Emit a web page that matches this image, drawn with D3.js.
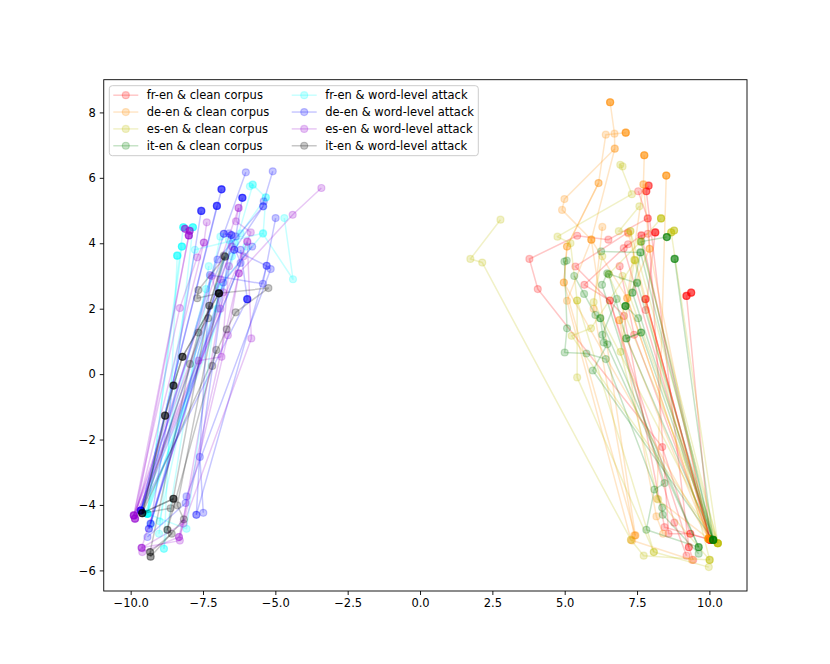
<!DOCTYPE html>
<html lang="en">
<head>
<meta charset="UTF-8">
<title>trajectories</title>
<script src="https://d3js.org/d3.v7.min.js"></script>
<style>
  body{margin:0;background:#fff;}
  svg text{font-family:"DejaVu Sans",sans-serif;}
</style>
</head>
<body>
<svg id="chart" width="830" height="664"></svg>
<script>
// legend labels, one per series (same order as seriesData below)
const labels = ['fr-en & clean corpus','de-en & clean corpus','es-en & clean corpus','it-en & clean corpus',
                'fr-en & word-level attack','de-en & word-level attack','es-en & word-level attack','it-en & word-level attack'];
const colors = ['#ff0000','#ff8c00','#bfbf00','#008000','#00ffff','#0000ff','#9400d3','#000000'];
const xTicks = [-10,-7.5,-5,-2.5,0,2.5,5,7.5,10];
const yTicks = [-6,-4,-2,0,2,4,6,8];

// each series: list of trajectories, each trajectory a list of [x,y] points
// (repeated points = several layers sitting on the same spot)
const frEnClean = [
  [[9.37,2.49],[9.37,2.49],[9.37,2.49],[9.37,2.49],[9.21,2.39],[9.21,2.39],[9.21,2.39],[9.21,2.39],[10.02,-5.06]],
  [[7.90,5.76],[7.90,5.76],[7.90,5.76],[7.82,5.59],[7.82,5.59],[7.82,5.59],[9.29,-5.29],[9.44,-5.68]],
  [[7.87,4.76],[6.51,4.11],[5.43,4.23],[3.78,3.52],[4.07,2.60],[8.37,-2.23],[9.34,-4.88]],
  [[7.87,4.29],[7.65,4.24],[7.04,3.85],[10.02,-5.06]],
  [[7.19,3.97],[5.68,2.73],[6.56,2.25],[8.79,-4.54],[9.21,-5.55]],
  [[8.13,4.33],[8.13,4.33],[8.13,4.33],[8.13,4.33],[7.80,1.96],[7.79,2.29],[10.02,-5.06]],
  [[7.19,4.33],[5.37,3.29],[7.05,1.78],[8.45,-4.68],[10.02,-5.06]],
  [[7.54,5.59],[7.87,4.76],[8.59,-4.88],[9.34,-4.88],[10.02,-5.06]],
  [[7.80,2.30],[10.02,-5.06]],
  [[7.65,4.24],[10.02,-5.06]],
  [[6.56,2.25],[9.29,-5.29]],
  [[7.79,2.29],[10.02,-5.06]],
  [[6.90,3.30],[7.40,1.20],[10.02,-5.06]]
];
const deEnClean = [
  [[6.57,8.31],[6.57,8.31],[6.57,8.31],[6.57,8.31],[6.72,7.35],[6.73,6.89],[4.99,5.35],[4.91,5.02],[5.92,4.11],[7.16,2.32],[9.97,-5.03]],
  [[7.11,7.38],[7.11,7.38],[7.11,7.38],[7.11,7.38],[6.42,7.32],[6.17,5.84],[5.08,3.90],[4.97,2.80],[7.44,-4.93],[7.33,-5.09]],
  [[7.75,6.69],[7.75,6.69],[7.75,6.69],[7.75,6.69],[7.72,5.80],[7.93,3.83],[6.89,1.65],[8.17,-4.35],[8.40,-4.88]],
  [[8.51,6.07],[8.51,6.07],[8.51,6.07],[8.51,6.07],[8.19,-3.81],[9.97,-5.03]],
  [[6.73,6.89],[5.92,4.11],[5.08,2.24],[7.29,-5.07],[9.40,-5.68]],
  [[7.72,5.80],[7.16,2.32],[9.97,-5.03]],
  [[6.17,5.84],[5.08,3.90],[4.97,2.80],[9.97,-5.03]],
  [[7.20,4.30],[9.97,-5.03]],
  [[6.89,1.65],[9.97,-5.03]],
  [[7.93,3.83],[9.97,-5.03]],
  [[5.92,4.11],[7.44,-4.93]],
  [[6.30,4.50],[6.00,2.00],[7.40,-4.93]]
];
const esEnClean = [
  [[8.33,4.76],[8.33,4.76],[8.33,4.76],[8.33,4.76],[7.62,4.05],[10.29,-5.17]],
  [[8.78,4.39],[8.78,4.39],[8.78,4.39],[8.68,4.33],[8.68,4.33],[8.68,4.33],[10.29,-5.17]],
  [[2.78,4.72],[1.74,3.52],[2.15,3.41],[7.29,-5.07],[7.73,-5.55],[10.01,-5.68]],
  [[7.00,6.35],[6.92,6.40],[7.32,5.50],[4.75,4.20],[5.20,4.00],[5.43,2.25],[5.43,-0.10],[8.08,-5.44],[9.98,-5.90]],
  [[7.58,5.13],[6.87,4.37],[7.27,4.37],[7.41,3.49],[6.93,0.68],[8.23,-3.83],[10.01,-5.68]],
  [[7.44,3.47],[5.91,1.40],[5.24,1.17],[10.29,-5.17]],
  [[7.62,4.05],[6.52,3.05],[10.29,-5.17]],
  [[7.00,3.00],[10.29,-5.17]],
  [[7.27,4.37],[10.29,-5.17]],
  [[5.43,2.25],[8.08,-5.44]],
  [[7.41,3.49],[10.01,-5.68]],
  [[6.30,3.60],[6.00,2.20],[10.29,-5.17]]
];
const itEnClean = [
  [[8.53,4.19],[8.53,4.19],[8.53,4.19],[8.53,4.19],[7.65,4.05],[10.13,-5.07]],
  [[8.80,3.52],[8.80,3.52],[8.80,3.52],[8.80,3.52],[10.13,-5.07]],
  [[7.10,2.08],[7.10,2.08],[7.10,2.08],[7.10,2.08],[7.54,1.71],[7.64,1.27],[7.13,1.09],[10.13,-5.07]],
  [[6.26,3.75],[7.62,3.72],[7.34,2.49],[7.50,2.78],[6.47,3.08],[6.29,2.73],[8.45,-3.33],[8.10,-3.53],[7.82,-4.76],[9.63,-5.29]],
  [[5.07,3.47],[4.99,3.44],[5.08,1.40],[5.00,0.66],[5.75,0.63],[6.42,0.46],[8.37,-4.08],[8.39,-4.30],[9.63,-5.49]],
  [[5.33,3.00],[5.67,2.45],[6.06,1.81],[6.23,1.71],[6.35,0.97],[6.47,0.91],[5.97,0.11],[10.13,-5.07]],
  [[6.52,3.05],[7.13,1.09],[7.64,1.27],[10.13,-5.07]],
  [[7.50,2.80],[10.13,-5.07]],
  [[7.62,3.72],[10.13,-5.07]],
  [[6.23,1.71],[9.63,-5.29]],
  [[7.34,2.49],[10.13,-5.07]],
  [[6.80,2.30],[6.30,1.20],[9.63,-5.29]]
];
const frEnAttack = [
  [[-8.18,4.49],[-8.18,4.49],[-8.18,4.49],[-8.18,4.49],[-9.42,-4.27]],
  [[-7.85,4.49],[-7.85,4.49],[-7.85,4.49],[-7.85,4.49],[-9.02,-4.88]],
  [[-8.23,3.90],[-8.23,3.90],[-8.23,3.90],[-8.23,3.90],[-9.42,-4.27]],
  [[-8.39,3.62],[-8.39,3.62],[-8.39,3.62],[-8.39,3.62],[-8.85,-5.34]],
  [[-5.88,5.74],[-5.78,5.79],[-5.33,5.40],[-5.42,4.31],[-7.78,3.80],[-9.42,-4.27]],
  [[-4.69,4.77],[-4.39,2.90],[-5.43,4.29],[-6.96,2.67],[-8.07,-4.73],[-9.42,-4.27]],
  [[-5.33,5.40],[-6.20,4.30],[-7.00,2.00],[-9.42,-4.27]],
  [[-6.00,3.90],[-9.50,-4.25]],
  [[-6.60,4.10],[-9.30,-4.60]],
  [[-5.78,5.79],[-6.50,3.60],[-9.42,-4.27]],
  [[-7.30,3.30],[-8.85,-5.34]],
  [[-6.90,4.20],[-9.00,-4.50]],
  [[-6.40,4.00],[-7.40,2.60],[-9.42,-4.27]]
];
const deEnAttack = [
  [[-6.86,5.65],[-6.86,5.65],[-6.86,5.65],[-6.86,5.65],[-9.65,-4.17]],
  [[-6.14,5.39],[-6.14,5.39],[-6.14,5.39],[-6.14,5.39],[-6.37,4.21],[-9.65,-4.17]],
  [[-7.02,5.14],[-7.02,5.14],[-7.02,5.14],[-7.02,5.14],[-9.65,-4.17]],
  [[-7.56,4.99],[-7.56,4.99],[-7.56,4.99],[-7.56,4.99],[-9.31,-4.57]],
  [[-6.20,3.80],[-5.97,2.29],[-5.97,2.29],[-5.97,2.29],[-5.97,2.29],[-9.65,-4.17]],
  [[-6.02,6.17],[-6.78,4.29],[-6.52,4.25],[-7.61,-2.53],[-7.49,-4.24]],
  [[-5.09,6.20],[-5.40,5.28],[-5.42,5.13],[-6.42,3.80],[-5.30,3.31],[-5.16,3.21],[-8.07,-3.74],[-8.10,-3.94],[-9.42,-4.98]],
  [[-4.99,4.77],[-5.43,2.76],[-7.26,3.03],[-7.73,-4.30]],
  [[-6.52,4.25],[-9.37,-4.73]],
  [[-6.78,4.29],[-9.65,-4.17]],
  [[-5.42,5.13],[-7.00,3.50],[-9.65,-4.17]],
  [[-6.42,3.80],[-9.31,-4.57]],
  [[-5.30,3.31],[-7.73,-4.30]],
  [[-6.60,4.30],[-6.20,3.40],[-9.65,-4.17]],
  [[-5.80,3.90],[-6.80,2.80],[-9.37,-4.73]]
];
const esEnAttack = [
  [[-8.12,4.44],[-8.12,4.44],[-8.12,4.44],[-7.96,4.38],[-7.96,4.38],[-7.96,4.38],[-9.89,-4.32]],
  [[-7.99,4.24],[-7.99,4.24],[-7.99,4.24],[-7.99,4.24],[-9.85,-4.42]],
  [[-3.41,5.69],[-4.40,4.87],[-6.26,3.08],[-6.64,1.19],[-8.18,-4.57],[-9.62,-5.31]],
  [[-6.27,5.08],[-6.36,4.67],[-5.85,4.33],[-5.97,4.05],[-5.83,1.09],[-8.33,-4.98],[-9.60,-5.44]],
  [[-7.37,4.64],[-7.47,4.02],[-7.70,3.57],[-8.30,2.02],[-9.89,-4.32]],
  [[-6.60,3.30],[-6.86,0.53],[-7.66,0.41],[-9.85,-4.42]],
  [[-7.20,3.00],[-6.90,2.00],[-8.30,-5.09],[-9.62,-5.31]],
  [[-5.97,4.05],[-9.89,-4.32]],
  [[-6.10,3.60],[-9.85,-4.42]],
  [[-6.27,5.08],[-9.89,-4.32]],
  [[-7.47,4.02],[-9.85,-4.42]],
  [[-6.26,3.08],[-8.33,-4.98]],
  [[-6.50,3.90],[-6.90,2.90],[-9.89,-4.32]],
  [[-6.80,2.50],[-9.62,-5.31]]
];
const itEnAttack = [
  [[-6.95,2.47],[-6.95,2.47],[-6.95,2.47],[-8.21,0.53],[-8.21,0.53],[-8.21,0.53],[-8.52,-0.35],[-8.52,-0.35],[-8.52,-0.35],[-8.81,-1.27],[-8.81,-1.27],[-8.81,-1.27],[-9.60,-4.25],[-9.60,-4.25],[-8.52,-3.81],[-8.52,-3.81],[-8.52,-3.81]],
  [[-6.95,2.47],[-8.21,0.53],[-8.52,-0.35],[-8.81,-1.27],[-9.60,-4.25],[-8.52,-3.81]],
  [[-6.74,3.59],[-7.66,2.57],[-7.70,2.32],[-6.95,2.47],[-5.24,2.63],[-6.37,1.89],[-6.68,1.37],[-9.60,-4.25],[-8.62,-4.10]],
  [[-6.78,3.62],[-7.28,2.09],[-7.32,1.71],[-7.66,1.27],[-7.95,0.31],[-9.33,-5.44],[-9.31,-5.58]],
  [[-7.04,0.74],[-7.18,0.25],[-8.73,-4.76],[-8.58,-4.88],[-9.33,-5.44]],
  [[-6.95,2.47],[-8.39,-4.01],[-8.16,-4.44],[-9.31,-5.58]],
  [[-6.74,3.59],[-9.60,-4.25]],
  [[-7.28,2.09],[-8.73,-4.76]]
];
const seriesData = [frEnClean, deEnClean, esEnClean, itEnClean, frEnAttack, deEnAttack, esEnAttack, itEnAttack];

const alpha = 0.22;
const margin = {left:103.75, right:747, top:79.7, bottom:591};
const svg = d3.select('#chart');
const x = d3.scaleLinear().domain([-10.93,11.3]).range([margin.left,margin.right]);
const y = d3.scaleLinear().domain([-6.63,9.0]).range([margin.bottom,margin.top]);
const line = d3.line().x(d=>x(d[0])).y(d=>y(d[1]));

const plot = svg.append('g');
seriesData.forEach((trajs,i)=>{
    const g = plot.append('g').attr('class','series');
    trajs.forEach(t=>{
        const tg = g.append('g');
        tg.append('path').attr('d',line(t))
          .attr('fill','none').attr('stroke',colors[i])
          .attr('stroke-width',1.5).attr('stroke-opacity',alpha)
          .attr('stroke-linejoin','round');
        tg.selectAll('circle').data(t).join('circle')
          .attr('cx',d=>x(d[0])).attr('cy',d=>y(d[1])).attr('r',3.5)
          .attr('fill',colors[i]).attr('fill-opacity',alpha)
          .attr('stroke',colors[i]).attr('stroke-opacity',alpha).attr('stroke-width',1.2);
    });
});

// axes
const fmt = d3.format('.1f');
const xAxis = svg.append('g').attr('transform',`translate(0,${margin.bottom})`)
    .call(d3.axisBottom(x).tickValues(xTicks).tickFormat(fmt).tickSize(4).tickPadding(4));
const yAxis = svg.append('g').attr('transform',`translate(${margin.left},0)`)
    .call(d3.axisLeft(y).tickValues(yTicks).tickFormat(d3.format('d')).tickSize(4).tickPadding(4));
[xAxis,yAxis].forEach(a=>{
    a.select('.domain').remove();
    a.selectAll('text').attr('font-size',11.5).attr('fill','#000').attr('font-family','DejaVu Sans');
    a.selectAll('line').attr('stroke','#000').attr('stroke-width',0.9);
});
svg.append('rect').attr('x',margin.left).attr('y',margin.top)
   .attr('width',margin.right-margin.left).attr('height',margin.bottom-margin.top)
   .attr('fill','none').attr('stroke','#000').attr('stroke-width',0.9);

// legend
const lg = svg.append('g').attr('transform','translate(109.3,85.7)');
lg.append('rect').attr('width',369).attr('height',70).attr('rx',3)
  .attr('fill','#fff').attr('fill-opacity',0.8).attr('stroke','#cccccc').attr('stroke-width',1);
labels.forEach((l,i)=>{
    const col = Math.floor(i/4), row = i%4;
    const ex = 4 + col*178.4, ey = 9.5 + row*16.85;
    const e = lg.append('g').attr('transform',`translate(${ex},${ey})`);
    e.append('line').attr('x1',0).attr('x2',25).attr('y1',0).attr('y2',0)
     .attr('stroke',colors[i]).attr('stroke-width',1.5).attr('stroke-opacity',alpha);
    e.append('circle').attr('cx',12.5).attr('cy',0).attr('r',3.5)
     .attr('fill',colors[i]).attr('fill-opacity',alpha)
     .attr('stroke',colors[i]).attr('stroke-opacity',alpha).attr('stroke-width',1.2);
    e.append('text').attr('x',33.5).attr('y',0).attr('dy','0.35em')
     .attr('font-size',11.5).text(l);
});
</script>
</body>
</html>
